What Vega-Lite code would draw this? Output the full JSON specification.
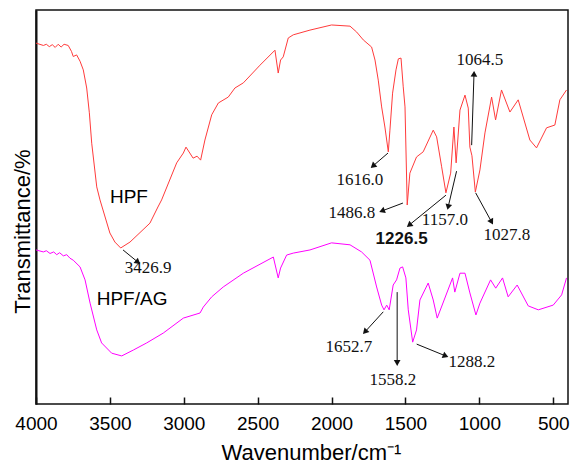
{
  "$schema": "https://vega.github.io/schema/vega-lite/v6.json",
  "width": 532,
  "height": 394,
  "autosize": "none",
  "padding": {"left": 36, "top": 10, "right": 3, "bottom": 60},
  "background": "white",
  "config": {
    "view": {"stroke": "#111", "strokeWidth": 1.5},
    "axis": {"grid": false}
  },
  "datasets": {
    "spectra": [
      {"sample": "HPF", "wn": 4000, "T": 91.6}, {"sample": "HPF", "wn": 3950, "T": 91.0}, {"sample": "HPF", "wn": 3930, "T": 91.3}, {"sample": "HPF", "wn": 3910, "T": 90.7}, {"sample": "HPF", "wn": 3890, "T": 91.2}, {"sample": "HPF", "wn": 3870, "T": 90.5}, {"sample": "HPF", "wn": 3850, "T": 91.3}, {"sample": "HPF", "wn": 3830, "T": 90.6}, {"sample": "HPF", "wn": 3810, "T": 91.3}, {"sample": "HPF", "wn": 3782, "T": 91.0},
      {"sample": "HPF", "wn": 3760, "T": 89.5}, {"sample": "HPF", "wn": 3748, "T": 88.2}, {"sample": "HPF", "wn": 3725, "T": 88.6}, {"sample": "HPF", "wn": 3702, "T": 87.0}, {"sample": "HPF", "wn": 3680, "T": 84.8}, {"sample": "HPF", "wn": 3657, "T": 80.2}, {"sample": "HPF", "wn": 3639, "T": 73.9}, {"sample": "HPF", "wn": 3623, "T": 66.2}, {"sample": "HPF", "wn": 3589, "T": 55.1}, {"sample": "HPF", "wn": 3567, "T": 51.8}, {"sample": "HPF", "wn": 3500, "T": 43.4}, {"sample": "HPF", "wn": 3466, "T": 41.1}, {"sample": "HPF", "wn": 3427, "T": 39.6}, {"sample": "HPF", "wn": 3364, "T": 41.1}, {"sample": "HPF", "wn": 3229, "T": 45.9}, {"sample": "HPF", "wn": 3175, "T": 50.0}, {"sample": "HPF", "wn": 3150, "T": 51.8}, {"sample": "HPF", "wn": 3048, "T": 61.2}, {"sample": "HPF", "wn": 3003, "T": 63.7}, {"sample": "HPF", "wn": 2985, "T": 65.2}, {"sample": "HPF", "wn": 2937, "T": 62.4}, {"sample": "HPF", "wn": 2910, "T": 62.9}, {"sample": "HPF", "wn": 2886, "T": 61.9}, {"sample": "HPF", "wn": 2857, "T": 67.0}, {"sample": "HPF", "wn": 2811, "T": 73.4}, {"sample": "HPF", "wn": 2766, "T": 76.4}, {"sample": "HPF", "wn": 2699, "T": 77.9}, {"sample": "HPF", "wn": 2654, "T": 80.2}, {"sample": "HPF", "wn": 2597, "T": 81.5}, {"sample": "HPF", "wn": 2484, "T": 86.0}, {"sample": "HPF", "wn": 2383, "T": 89.8}, {"sample": "HPF", "wn": 2361, "T": 84.0}, {"sample": "HPF", "wn": 2345, "T": 87.3}, {"sample": "HPF", "wn": 2327, "T": 88.1}, {"sample": "HPF", "wn": 2293, "T": 92.9}, {"sample": "HPF", "wn": 2259, "T": 93.7}, {"sample": "HPF", "wn": 2146, "T": 94.9}, {"sample": "HPF", "wn": 2000, "T": 96.2}, {"sample": "HPF", "wn": 1875, "T": 95.9}, {"sample": "HPF", "wn": 1830, "T": 94.4}, {"sample": "HPF", "wn": 1785, "T": 92.4}, {"sample": "HPF", "wn": 1729, "T": 90.6}, {"sample": "HPF", "wn": 1706, "T": 87.3}, {"sample": "HPF", "wn": 1684, "T": 82.2}, {"sample": "HPF", "wn": 1661, "T": 75.4}, {"sample": "HPF", "wn": 1639, "T": 70.3}, {"sample": "HPF", "wn": 1616, "T": 64.0}, {"sample": "HPF", "wn": 1605, "T": 69.5}, {"sample": "HPF", "wn": 1587, "T": 78.9}, {"sample": "HPF", "wn": 1564, "T": 84.8}, {"sample": "HPF", "wn": 1548, "T": 87.6}, {"sample": "HPF", "wn": 1530, "T": 87.8}, {"sample": "HPF", "wn": 1515, "T": 80.5}, {"sample": "HPF", "wn": 1503, "T": 75.4}, {"sample": "HPF", "wn": 1488, "T": 50.5}, {"sample": "HPF", "wn": 1470, "T": 58.6}, {"sample": "HPF", "wn": 1425, "T": 62.7}, {"sample": "HPF", "wn": 1380, "T": 64.0}, {"sample": "HPF", "wn": 1312, "T": 69.5}, {"sample": "HPF", "wn": 1289, "T": 67.8}, {"sample": "HPF", "wn": 1255, "T": 60.2}, {"sample": "HPF", "wn": 1226, "T": 53.6}, {"sample": "HPF", "wn": 1194, "T": 58.6}, {"sample": "HPF", "wn": 1172, "T": 70.3}, {"sample": "HPF", "wn": 1157, "T": 61.2}, {"sample": "HPF", "wn": 1131, "T": 74.6}, {"sample": "HPF", "wn": 1097, "T": 78.4}, {"sample": "HPF", "wn": 1075, "T": 75.1}, {"sample": "HPF", "wn": 1064, "T": 65.2}, {"sample": "HPF", "wn": 1050, "T": 63.0}, {"sample": "HPF", "wn": 1027, "T": 53.8}, {"sample": "HPF", "wn": 996, "T": 59.4}, {"sample": "HPF", "wn": 962, "T": 68.8}, {"sample": "HPF", "wn": 917, "T": 77.9}, {"sample": "HPF", "wn": 890, "T": 72.1}, {"sample": "HPF", "wn": 850, "T": 79.7}, {"sample": "HPF", "wn": 793, "T": 74.1}, {"sample": "HPF", "wn": 737, "T": 77.2}, {"sample": "HPF", "wn": 658, "T": 67.0}, {"sample": "HPF", "wn": 613, "T": 65.0}, {"sample": "HPF", "wn": 545, "T": 70.1}, {"sample": "HPF", "wn": 489, "T": 70.8}, {"sample": "HPF", "wn": 455, "T": 77.2}, {"sample": "HPF", "wn": 410, "T": 79.7},
      {"sample": "HPF/AG", "wn": 4000, "T": 39.1}, {"sample": "HPF/AG", "wn": 3950, "T": 38.6}, {"sample": "HPF/AG", "wn": 3930, "T": 38.9}, {"sample": "HPF/AG", "wn": 3905, "T": 38.2}, {"sample": "HPF/AG", "wn": 3880, "T": 38.6}, {"sample": "HPF/AG", "wn": 3860, "T": 37.9}, {"sample": "HPF/AG", "wn": 3840, "T": 38.4}, {"sample": "HPF/AG", "wn": 3815, "T": 37.6}, {"sample": "HPF/AG", "wn": 3792, "T": 37.9}, {"sample": "HPF/AG", "wn": 3770, "T": 37.0}, {"sample": "HPF/AG", "wn": 3748, "T": 36.5}, {"sample": "HPF/AG", "wn": 3702, "T": 34.8}, {"sample": "HPF/AG", "wn": 3668, "T": 31.5}, {"sample": "HPF/AG", "wn": 3634, "T": 25.6}, {"sample": "HPF/AG", "wn": 3589, "T": 18.8}, {"sample": "HPF/AG", "wn": 3556, "T": 15.5}, {"sample": "HPF/AG", "wn": 3488, "T": 12.9}, {"sample": "HPF/AG", "wn": 3420, "T": 12.2}, {"sample": "HPF/AG", "wn": 3341, "T": 13.7}, {"sample": "HPF/AG", "wn": 3251, "T": 15.5}, {"sample": "HPF/AG", "wn": 3139, "T": 18.0}, {"sample": "HPF/AG", "wn": 3003, "T": 21.8}, {"sample": "HPF/AG", "wn": 2890, "T": 23.1}, {"sample": "HPF/AG", "wn": 2868, "T": 24.6}, {"sample": "HPF/AG", "wn": 2811, "T": 27.2}, {"sample": "HPF/AG", "wn": 2733, "T": 29.7}, {"sample": "HPF/AG", "wn": 2597, "T": 33.2}, {"sample": "HPF/AG", "wn": 2394, "T": 37.3}, {"sample": "HPF/AG", "wn": 2361, "T": 32.0}, {"sample": "HPF/AG", "wn": 2345, "T": 34.5}, {"sample": "HPF/AG", "wn": 2304, "T": 37.8}, {"sample": "HPF/AG", "wn": 2259, "T": 38.3}, {"sample": "HPF/AG", "wn": 2146, "T": 39.1}, {"sample": "HPF/AG", "wn": 2000, "T": 40.9}, {"sample": "HPF/AG", "wn": 1875, "T": 40.4}, {"sample": "HPF/AG", "wn": 1797, "T": 38.6}, {"sample": "HPF/AG", "wn": 1740, "T": 36.5}, {"sample": "HPF/AG", "wn": 1695, "T": 29.7}, {"sample": "HPF/AG", "wn": 1661, "T": 25.1}, {"sample": "HPF/AG", "wn": 1645, "T": 23.9}, {"sample": "HPF/AG", "wn": 1627, "T": 25.1}, {"sample": "HPF/AG", "wn": 1610, "T": 23.9}, {"sample": "HPF/AG", "wn": 1583, "T": 30.2}, {"sample": "HPF/AG", "wn": 1560, "T": 31.5}, {"sample": "HPF/AG", "wn": 1537, "T": 34.5}, {"sample": "HPF/AG", "wn": 1519, "T": 34.8}, {"sample": "HPF/AG", "wn": 1497, "T": 32.0}, {"sample": "HPF/AG", "wn": 1481, "T": 23.9}, {"sample": "HPF/AG", "wn": 1451, "T": 15.7}, {"sample": "HPF/AG", "wn": 1425, "T": 18.8}, {"sample": "HPF/AG", "wn": 1402, "T": 26.4}, {"sample": "HPF/AG", "wn": 1346, "T": 30.7}, {"sample": "HPF/AG", "wn": 1312, "T": 26.4}, {"sample": "HPF/AG", "wn": 1285, "T": 21.8}, {"sample": "HPF/AG", "wn": 1233, "T": 26.9}, {"sample": "HPF/AG", "wn": 1181, "T": 32.0}, {"sample": "HPF/AG", "wn": 1166, "T": 28.4}, {"sample": "HPF/AG", "wn": 1131, "T": 33.2}, {"sample": "HPF/AG", "wn": 1097, "T": 33.2}, {"sample": "HPF/AG", "wn": 1064, "T": 28.2}, {"sample": "HPF/AG", "wn": 1023, "T": 22.6}, {"sample": "HPF/AG", "wn": 996, "T": 25.6}, {"sample": "HPF/AG", "wn": 924, "T": 31.5}, {"sample": "HPF/AG", "wn": 889, "T": 29.4}, {"sample": "HPF/AG", "wn": 843, "T": 32.0}, {"sample": "HPF/AG", "wn": 805, "T": 27.2}, {"sample": "HPF/AG", "wn": 744, "T": 30.2}, {"sample": "HPF/AG", "wn": 669, "T": 24.9}, {"sample": "HPF/AG", "wn": 601, "T": 23.9}, {"sample": "HPF/AG", "wn": 500, "T": 25.1}, {"sample": "HPF/AG", "wn": 443, "T": 27.7}, {"sample": "HPF/AG", "wn": 410, "T": 32.0}
    ],
    "labels": [
      {"label": "HPF", "wn": 3371, "T": 52.5, "kind": "sample"},
      {"label": "HPF/AG", "wn": 3350, "T": 26.6, "kind": "sample"},
      {"label": "3426.9", "wn": 3242, "T": 34.5, "kind": "peak"},
      {"label": "1616.0", "wn": 1808, "T": 56.9, "kind": "peak"},
      {"label": "1486.8", "wn": 1862, "T": 48.5, "kind": "peak"},
      {"label": "1226.5", "wn": 1526, "T": 41.8, "kind": "peak-bold"},
      {"label": "1157.0", "wn": 1233, "T": 46.7, "kind": "peak"},
      {"label": "1064.5", "wn": 996, "T": 87.3, "kind": "peak"},
      {"label": "1027.8", "wn": 813, "T": 42.9, "kind": "peak"},
      {"label": "1652.7", "wn": 1882, "T": 14.5, "kind": "peak"},
      {"label": "1558.2", "wn": 1585, "T": 6.1, "kind": "peak"},
      {"label": "1288.2", "wn": 1050, "T": 10.7, "kind": "peak"}
    ],
    "arrows": [
      {"label": "3426.9", "wn1": 3411, "T1": 39.1, "wn2": 3310, "T2": 36.0},
      {"label": "1616.0", "wn1": 1618, "T1": 63.7, "wn2": 1720, "T2": 60.4},
      {"label": "1486.8", "wn1": 1517, "T1": 51.0, "wn2": 1659, "T2": 49.0},
      {"label": "1226.5", "wn1": 1226, "T1": 53.0, "wn2": 1475, "T2": 45.4},
      {"label": "1157.0", "wn1": 1154, "T1": 59.1, "wn2": 1211, "T2": 50.0},
      {"label": "1064.5", "wn1": 1052, "T1": 65.7, "wn2": 1036, "T2": 83.8},
      {"label": "1027.8", "wn1": 1025, "T1": 53.6, "wn2": 917, "T2": 46.2},
      {"label": "1652.7", "wn1": 1650, "T1": 23.4, "wn2": 1774, "T2": 18.3},
      {"label": "1558.2", "wn1": 1556, "T1": 28.4, "wn2": 1556, "T2": 10.4},
      {"label": "1288.2", "wn1": 1424, "T1": 15.2, "wn2": 1228, "T2": 12.2}
    ]
  },
  "layer": [
    {
      "data": {"name": "spectra"},
      "mark": {"type": "line", "strokeWidth": 1, "interpolate": "linear"},
      "encoding": {
        "x": {
          "field": "wn", "type": "quantitative",
          "scale": {"domain": [4000, 400], "nice": false, "zero": false},
          "axis": {
            "values": [4000, 3750, 3500, 3250, 3000, 2750, 2500, 2250, 2000, 1750, 1500, 1250, 1000, 750, 500],
            "labelExpr": "datum.value % 500 === 0 ? datum.label : ''",
            "format": "d",
            "tickSize": {"condition": {"test": "datum.value % 500 === 0", "value": -7}, "value": -4},
            "tickColor": "#111", "tickWidth": 1.5,
            "labelPadding": 17, "labelFlush": false, "labelOverlap": false,
            "labelFont": "Liberation Sans", "labelFontSize": 19, "labelColor": "#000",
            "domain": false,
            "title": "Wavenumber/cm⁻¹",
            "titleFont": "Liberation Sans", "titleFontSize": 22, "titleFontWeight": "normal", "titleColor": "#000",
            "titleX": 275, "titleY": 48, "titleBaseline": "middle"
          }
        },
        "y": {
          "field": "T", "type": "quantitative",
          "scale": {"domain": [0, 100], "nice": false},
          "axis": {
            "labels": false, "ticks": false,
            "domain": true, "domainColor": "#111", "domainWidth": 2,
            "title": "Transmittance/%",
            "titleFont": "Liberation Sans", "titleFontSize": 22, "titleFontWeight": "normal", "titleColor": "#000",
            "titleX": -14, "titleY": 221, "titleBaseline": "middle", "titleAlign": "center"
          }
        },
        "color": {
          "field": "sample", "type": "nominal",
          "scale": {"domain": ["HPF", "HPF/AG"], "range": ["#ff3b3b", "#ff00ff"]},
          "legend": null
        }
      }
    },
    {
      "data": {"name": "arrows"},
      "mark": {"type": "rule", "color": "#111", "strokeWidth": 1},
      "encoding": {
        "x": {"field": "wn1", "type": "quantitative"},
        "x2": {"field": "wn2"},
        "y": {"field": "T1", "type": "quantitative"},
        "y2": {"field": "T2"}
      }
    },
    {
      "data": {"name": "arrows"},
      "transform": [
        {"calculate": "atan2(-(datum.wn2 - datum.wn1) * 0.1478, (datum.T2 - datum.T1) * 3.94) * 180 / PI", "as": "heading"}
      ],
      "mark": {"type": "point", "shape": "triangle-up", "filled": true, "color": "#111", "size": 45, "opacity": 1},
      "encoding": {
        "x": {"field": "wn2", "type": "quantitative"},
        "y": {"field": "T2", "type": "quantitative"},
        "angle": {"field": "heading", "type": "quantitative", "scale": null}
      }
    },
    {
      "data": {"name": "labels"},
      "transform": [{"filter": "datum.kind === 'peak'"}],
      "mark": {"type": "text", "font": "Liberation Serif", "fontSize": 17, "color": "#111", "align": "center", "baseline": "middle"},
      "encoding": {
        "x": {"field": "wn", "type": "quantitative"},
        "y": {"field": "T", "type": "quantitative"},
        "text": {"field": "label"}
      }
    },
    {
      "data": {"name": "labels"},
      "transform": [{"filter": "datum.kind === 'peak-bold'"}],
      "mark": {"type": "text", "font": "Liberation Sans", "fontSize": 17, "fontWeight": "bold", "color": "#111", "align": "center", "baseline": "middle"},
      "encoding": {
        "x": {"field": "wn", "type": "quantitative"},
        "y": {"field": "T", "type": "quantitative"},
        "text": {"field": "label"}
      }
    },
    {
      "data": {"name": "labels"},
      "transform": [{"filter": "datum.kind === 'sample'"}],
      "mark": {"type": "text", "font": "Liberation Sans", "fontSize": 19, "color": "#000", "align": "center", "baseline": "middle"},
      "encoding": {
        "x": {"field": "wn", "type": "quantitative"},
        "y": {"field": "T", "type": "quantitative"},
        "text": {"field": "label"}
      }
    }
  ]
}
